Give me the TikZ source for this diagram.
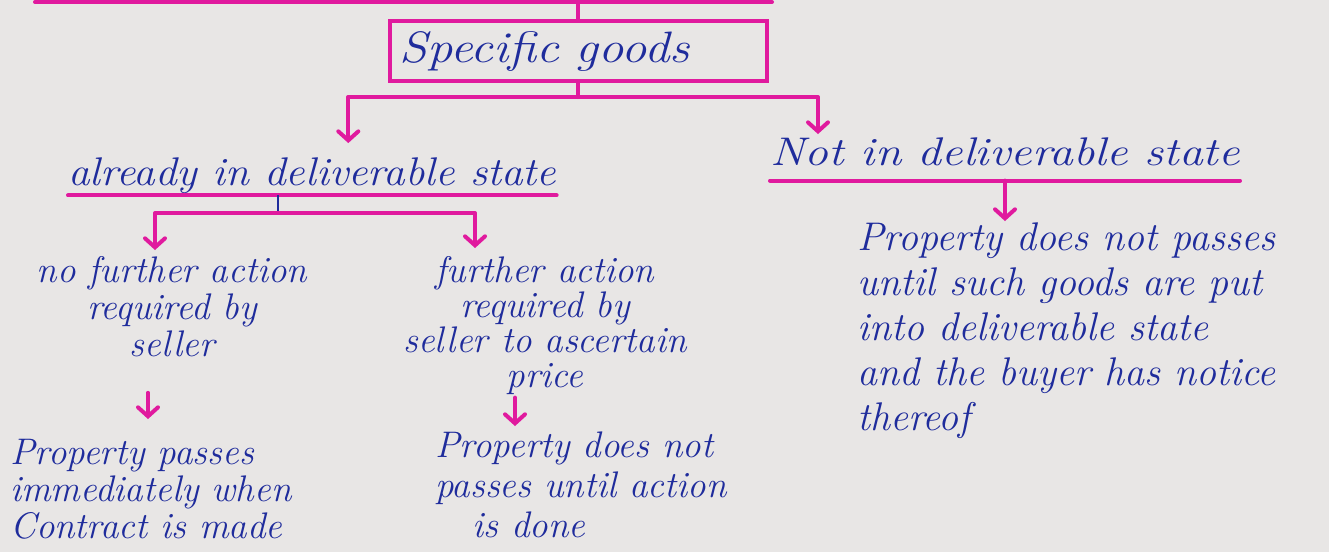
\documentclass[tikz,border=0pt]{standalone}
\usepackage{fontspec}
\usepackage{graphicx}
\usetikzlibrary{arrows.meta}

\definecolor{ink}{HTML}{1F2C9C}
\definecolor{pen}{HTML}{E01A9E}
\definecolor{paper}{HTML}{E8E6E5}

\newcommand\handfont[2]{\fontsize{#1}{#2}\selectfont\itshape}

\begin{document}
\begin{tikzpicture}[x=1pt, y=1pt,
        hand/.style={text=ink, inner sep=0pt, font=\handfont{37}{37}},
        mline/.style={pen, line width=4pt, line cap=round, line join=round},
        arr/.style={mline, -{Straight Barb[length=9pt, width=20pt, line cap=round]}},
        stub/.style={ink, line width=2.5pt}]

    \fill[paper] (0,0) rectangle (1329,-552);
    \useasboundingbox (0,0) rectangle (1329,-552);

    % ---------- head ----------
    \draw[mline] (35,-2) -- (772,-2);
    \coordinate (top) at (578,-2);
    \node[draw=pen, line width=4pt, text=ink, minimum width=377pt, minimum height=53pt,
          text width=357pt, inner sep=10pt, align=left,
          font=\handfont{44}{48}] (sg) at (578,-51) {\scalebox{1.15}[1]{Specific goods}};

    \node[hand, font=\handfont{40}{40}, anchor=base west] (ald) at (68,-185) {\scalebox{1.08}[1]{already in deliverable state}};
    \node[hand, font=\handfont{40}{40}, anchor=base west] (nds) at (770,-165) {\scalebox{1.19}[1]{Not in deliverable state}};

    % ---------- left side ----------
    \node[hand, anchor=north, align=center] (nfa) at (172,-256) {no further action\\required by\\seller};
    \node[hand, font=\handfont{37}{35}, anchor=north, align=center] (fra) at (545,-256) {further action\\required by\\seller to ascertain\\price};
    \node[hand, anchor=north west, align=left] (ppi) at (10,-439) {Property passes\\immediately when\\Contract is made};
    \node[hand, font=\handfont{37}{40}, anchor=north west, align=left] (pdn) at (435,-432) {Property does not\\passes until action\\\hspace*{1em}is done};

    % ---------- right side ----------
    \node[hand, font=\handfont{40}{45}, anchor=north west, align=left] (pdr) at (857,-223) {Property does not passes\\until such goods are put\\into deliverable state\\and the buyer has notice\\thereof};

    % ---------- connectors ----------
    \coordinate (b1) at (578,-97);
    \coordinate (b2) at (278,-213);
    \draw[mline] (top) -- (sg);
    \draw[mline] (sg) -- (b1);
    \draw[arr] (b1) -| ([xshift=36pt, yshift=14pt]ald.north);
    \draw[arr] (b1) -| ([xshift=-187pt, yshift=3pt]nds.north);

    \draw[mline] ([yshift=-2pt]ald.south west) -- ([yshift=-2pt]ald.south east);
    \draw[stub] ([yshift=-2pt]ald.south -| b2) -- (b2);
    \draw[arr] (b2) -| ([xshift=-17pt, yshift=6pt]nfa.north);
    \draw[arr] (b2) -| ([xshift=-70pt, yshift=8pt]fra.north);

    \draw[mline] ([yshift=-15pt]nds.south west) -- ([yshift=-15pt]nds.south east);
    \draw[arr] ([yshift=-15pt]nds.south) -- ([yshift=2pt]nds.south |- pdr.north);

    \draw[arr] ([xshift=-24pt, yshift=-36pt]nfa.south) -- ([xshift=-24pt, yshift=20pt]nfa.south |- ppi.north);
    \draw[arr] ([xshift=-30pt, yshift=-3pt]fra.south) -- ([xshift=-30pt, yshift=6pt]fra.south |- pdn.north);
\end{tikzpicture}
\end{document}
